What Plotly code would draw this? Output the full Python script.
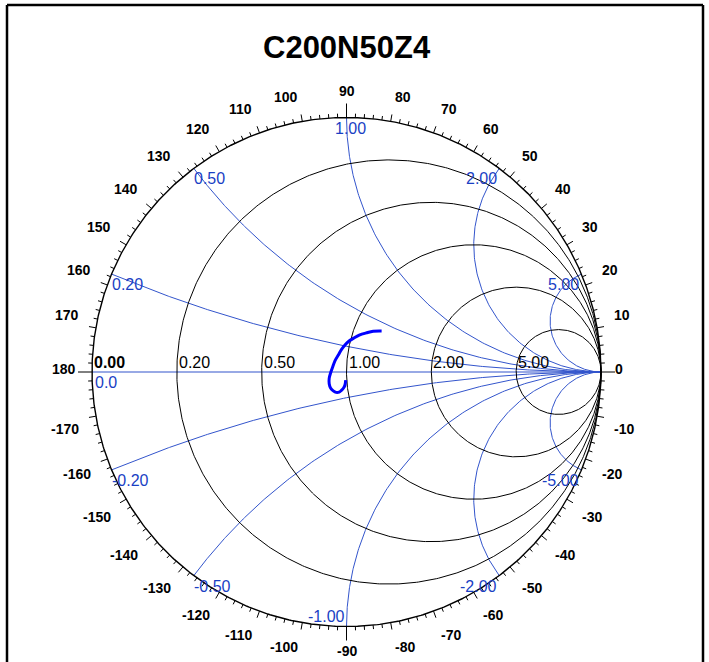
import numpy as np
import plotly.graph_objects as go

title = "C200N50Z4"
resistances = [0.2, 0.5, 1.0, 2.0, 5.0]
res_labels = ["0.20", "0.50", "1.00", "2.00", "5.00"]
reactances = [0.2, 0.5, 1.0, 2.0, 5.0, -0.2, -0.5, -1.0, -2.0, -5.0]
react_labels = ["0.20", "0.50", "1.00", "2.00", "5.00", "-0.20", "-0.50", "-1.00", "-2.00", "-5.00"]
angle_labels = [0, 10, 20, 30, 40, 50, 60, 70, 80, 90, 100, 110, 120, 130, 140, 150, 160, 170, 180,
                -170, -160, -150, -140, -130, -120, -110, -100, -90, -80, -70, -60, -50, -40, -30, -20, -10]
# measured reflection coefficient trace (real, imag)
gamma_re = [0.138, 0.105, 0.079, 0.050, 0.027, 0.008, -0.006, -0.020, -0.032, -0.045, -0.054, -0.062,
            -0.068, -0.068, -0.062, -0.052, -0.041, -0.029, -0.019, -0.011, -0.006, -0.003]
gamma_im = [0.161, 0.160, 0.154, 0.145, 0.132, 0.120, 0.106, 0.088, 0.067, 0.045, 0.021, -0.002,
            -0.025, -0.046, -0.064, -0.074, -0.080, -0.079, -0.071, -0.062, -0.051, -0.032]

R = 254.5  # pixels per unit
CX, CY = 346.5, 372.0
W, H = 709, 662

BLACK = "#000000"
GRID_BLUE = "#3355cc"
LABEL_BLUE = "#1a3fc4"
FONT = "Liberation Sans, Arial"

fig = go.Figure()

def add_line(x, y, color, width):
    fig.add_trace(go.Scatter(x=x, y=y, mode="lines", line=dict(color=color, width=width),
                             hoverinfo="skip", showlegend=False))

t = np.linspace(0, 2 * np.pi, 721)
# reactance arcs (blue)
rr = np.concatenate([[0], np.logspace(-3, 4, 600)])
for xv in reactances:
    z = rr + 1j * xv
    g = (z - 1) / (z + 1)
    add_line(np.append(g.real, 1.0), np.append(g.imag, 0.0), GRID_BLUE, 1)
# real axis
add_line([-1, 1], [0, 0], GRID_BLUE, 1.2)
# resistance circles (black)
for r in resistances:
    c = r / (r + 1)
    rad = 1 / (r + 1)
    add_line(c + rad * np.cos(t), rad * np.sin(t), BLACK, 1)
# outer circle
add_line(np.cos(t), np.sin(t), BLACK, 1.4)

# angle ticks
tx, ty = [], []
for a in range(-180, 180, 2):
    if a % 90 == 0:
        L = 14
    elif a % 10 == 0:
        L = 7
    else:
        L = 4
    th = np.deg2rad(a)
    tx += [np.cos(th), (1 + L / R) * np.cos(th), None]
    ty += [np.sin(th), (1 + L / R) * np.sin(th), None]
add_line(tx, ty, BLACK, 1)

# data curve
fig.add_trace(go.Scatter(x=gamma_re, y=gamma_im, mode="lines",
                         line=dict(color="#0000ff", width=3, shape="spline"),
                         hoverinfo="skip", showlegend=False))

ann = []
# angle labels
for a in angle_labels:
    s = str(a)
    th = np.deg2rad(a)
    c, sn = np.cos(th), np.sin(th)
    xa = "left" if c > 0.1 else ("right" if c < -0.1 else "center")
    ya = "bottom" if sn > 0.1 else ("top" if sn < -0.1 else "middle")
    gap, ys = 15, 0
    if abs(sn) < 0.1:
        gap, ys = (12 if c > 0 else 14), 3
    if abs(c) < 0.1:
        gap, ys = 12, (5 if sn > 0 else -2)
    rc = 1 + gap / R
    ann.append(dict(x=rc * c, y=rc * sn, text=s, showarrow=False,
                    xanchor=xa, yanchor=ya, yshift=ys,
                    font=dict(family=FONT, size=14, color=BLACK, weight="bold")))
# resistance labels
ann.append(dict(x=-1, y=0, text="0.00", showarrow=False, xanchor="left", yanchor="bottom", yshift=-1,
                font=dict(family=FONT, size=16, color=BLACK, weight="bold")))
for r, s in zip(resistances, res_labels):
    ann.append(dict(x=(r - 1) / (r + 1), y=0, text=s, showarrow=False, xanchor="left", yanchor="bottom",
                    yshift=-1, font=dict(family=FONT, size=16, color=BLACK)))
# reactance labels
ann.append(dict(x=-1, y=0, text="0.0", showarrow=False, xanchor="left", yanchor="top", xshift=1,
                font=dict(family=FONT, size=16, color=LABEL_BLUE)))
for xv, s in zip(reactances, react_labels):
    g = (1j * xv - 1) / (1j * xv + 1)
    xs = 0
    if abs(xv) < 1:
        xa, ya, xs = "left", "top", -2
    elif xv == 1:
        xa, ya, xs = "center", "top", 4
    elif xv == -1:
        xa, ya = "right", "bottom"
    else:
        xa, ya = "right", "top"
    ann.append(dict(x=g.real, y=g.imag, text=s, showarrow=False, xanchor=xa, yanchor=ya, xshift=xs,
                    font=dict(family=FONT, size=16, color=LABEL_BLUE)))
# title
ann.append(dict(x=0.0, y=(CY - 48) / R, text=title, showarrow=False, xanchor="center", yanchor="middle",
                yshift=1, font=dict(family=FONT, size=31, color=BLACK, weight="bold")))

shapes = [
    dict(type="line", xref="paper", yref="paper", x0=7 / W, x1=7 / W, y0=0, y1=1 - 5 / H,
         line=dict(color=BLACK, width=2.5)),
    dict(type="line", xref="paper", yref="paper", x0=7 / W, x1=703 / W, y0=1 - 5 / H, y1=1 - 5 / H,
         line=dict(color=BLACK, width=2.5)),
    dict(type="line", xref="paper", yref="paper", x0=703 / W, x1=703 / W, y0=0, y1=1 - 5 / H,
         line=dict(color=BLACK, width=2.5)),
]

fig.update_layout(
    width=W, height=H, margin=dict(l=0, r=0, t=0, b=0),
    paper_bgcolor="white", plot_bgcolor="white",
    xaxis=dict(range=[-CX / R, (W - CX) / R], visible=False, fixedrange=True),
    yaxis=dict(range=[-(H - CY) / R, CY / R], visible=False, fixedrange=True),
    annotations=ann, shapes=shapes, showlegend=False,
)
fig.write_html("out.html", config={"displayModeBar": False},
               post_script="document.body.style.margin='0';document.body.style.padding='0';"
                           "document.body.style.overflow='hidden';")
